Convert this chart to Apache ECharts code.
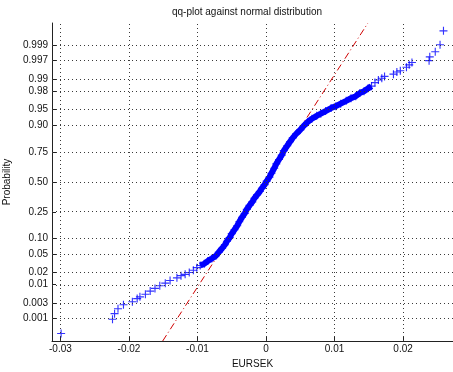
<!DOCTYPE html>
<html>
<head>
<meta charset="utf-8">
<script src="https://cdn.jsdelivr.net/npm/echarts@6/dist/echarts.min.js"></script>
<style>html,body{margin:0;padding:0;background:#fff;}#c{width:453px;height:372px;}</style>
</head>
<body>
<div id="c"></div>
<script>
// ---- data ----
const titleText = 'qq-plot against normal distribution';
const xName = 'EURSEK';
const yName = 'Probability';
const xTicks = [-0.03, -0.02, -0.01, 0, 0.01, 0.02];
const xTickLabels = ['-0.03', '-0.02', '-0.01', '0', '0.01', '0.02'];
const probTicks = [0.001, 0.003, 0.01, 0.02, 0.05, 0.10, 0.25, 0.50, 0.75, 0.90, 0.95, 0.98, 0.99, 0.997, 0.999];
const probTickLabels = ['0.001', '0.003', '0.01', '0.02', '0.05', '0.10', '0.25', '0.50', '0.75', '0.90', '0.95', '0.98', '0.99', '0.997', '0.999'];
// sample quantiles (EURSEK) and their plotting probabilities
const qqX = [-0.0299, -0.0224, -0.0221, -0.0216, -0.0208, -0.0195, -0.0188, -0.0184, -0.0176, -0.0169,
  -0.0162, -0.0155, -0.0147, -0.0140, -0.0130, -0.0124, -0.0118, -0.0112, -0.0106, -0.0101,
  -0.0096, -0.0090, -0.0085, -0.0079, -0.0073, -0.0069, -0.0064, -0.0060, -0.0057, -0.0053,
  -0.0050, -0.0046, -0.0042, -0.0039, -0.0035, -0.0031, -0.0028, -0.0024, -0.0020, -0.0017,
  -0.0013, -0.0009, -0.0006, -0.0002, 0.0001, 0.0005, 0.0008, 0.0012, 0.0015, 0.0019,
  0.0023, 0.0026, 0.0031, 0.0035, 0.0039, 0.0044, 0.0050, 0.0055, 0.0061, 0.0067,
  0.0074, 0.0080, 0.0087, 0.0095, 0.0102, 0.0109, 0.0117, 0.0124, 0.0131, 0.0137,
  0.0143, 0.0149, 0.0154, 0.0159, 0.0164, 0.0169, 0.0173, 0.0186, 0.0191, 0.0196,
  0.0205, 0.0209, 0.0213, 0.0238, 0.0239, 0.0247, 0.0254, 0.0259];
const qqP = [0.0003, 0.00094, 0.00144, 0.00205, 0.00272, 0.00336, 0.00415, 0.00466, 0.00554, 0.00676,
  0.00798, 0.00939, 0.0110, 0.0129, 0.0150, 0.0170, 0.0183, 0.0202, 0.0228, 0.0262,
  0.0294, 0.0322, 0.0367, 0.0418, 0.0475, 0.0559, 0.0668, 0.0778, 0.0901, 0.1038,
  0.121, 0.140, 0.161, 0.184, 0.212, 0.239, 0.268, 0.298, 0.326, 0.356,
  0.386, 0.415, 0.444, 0.476, 0.508, 0.544, 0.579, 0.622, 0.659, 0.695,
  0.729, 0.761, 0.794, 0.819, 0.841, 0.862, 0.881, 0.898, 0.913, 0.924,
  0.933, 0.939, 0.946, 0.953, 0.957, 0.962, 0.967, 0.971, 0.974, 0.978,
  0.980, 0.983, 0.985, 0.9878, 0.9895, 0.9906, 0.9916, 0.9927, 0.9936, 0.9941,
  0.9953, 0.9960, 0.9966, 0.9970, 0.9977, 0.9984, 0.99906, 0.99969];
// fitted normal reference line: x = refMean + refStd * z
const refMean = -0.0001;
const refStd = 0.00416;

// ---- normal scale ----
function normInv(p) {
  const a = [-3.969683028665376e+01, 2.209460984245205e+02, -2.759285104469687e+02, 1.383577518672690e+02, -3.066479806614716e+01, 2.506628277459239e+00];
  const b = [-5.447609879822406e+01, 1.615858368580409e+02, -1.556989798598866e+02, 6.680131188771972e+01, -1.328068155288572e+01];
  const c = [-7.784894002430293e-03, -3.223964580411365e-01, -2.400758277161838e+00, -2.549732539343734e+00, 4.374664141464968e+00, 2.938163982698783e+00];
  const d = [7.784695709041462e-03, 3.224671290700398e-01, 2.445134137142996e+00, 3.754408661907416e+00];
  const pl = 0.02425, ph = 1 - pl;
  let q, r;
  if (p < pl) {
    q = Math.sqrt(-2 * Math.log(p));
    return (((((c[0]*q+c[1])*q+c[2])*q+c[3])*q+c[4])*q+c[5]) / ((((d[0]*q+d[1])*q+d[2])*q+d[3])*q+1);
  }
  if (p <= ph) {
    q = p - 0.5; r = q * q;
    return (((((a[0]*r+a[1])*r+a[2])*r+a[3])*r+a[4])*r+a[5])*q / (((((b[0]*r+b[1])*r+b[2])*r+b[3])*r+b[4])*r+1);
  }
  q = Math.sqrt(-2 * Math.log(1 - p));
  return -(((((c[0]*q+c[1])*q+c[2])*q+c[3])*q+c[4])*q+c[5]) / ((((d[0]*q+d[1])*q+d[2])*q+d[3])*q+1);
}

const yMin = -3.6, yMax = 3.6;
const xMin = -0.03123, xMax = 0.02729;
const zTicks = probTicks.map(normInv);
const points = qqX.map((x, i) => [x, normInv(qqP[i])]);
const bandPoints = points.slice(20, 73);
const refData = [[refMean + refStd * yMin, yMin], [refMean + refStd * yMax, yMax]];

const font = 'Liberation Sans, Arial, Helvetica, sans-serif';
const gridStyle = { color: '#3a3a3a', width: 1, type: [1, 3] };
const cross = 'path://M4.3,0h1.4v4.3h4.3v1.4h-4.3v4.3h-1.4v-4.3h-4.3v-1.4h4.3z';

const chart = echarts.init(document.getElementById('c'), null, { renderer: 'canvas' });
chart.setOption({
  animation: false,
  backgroundColor: '#ffffff',
  title: {
    text: titleText, left: 247, top: 7, padding: 0, textAlign: 'center',
    textStyle: { fontFamily: font, fontSize: 10, fontWeight: 'normal', color: '#111' }
  },
  grid: { left: 52, right: 0, top: 23, bottom: 31, containLabel: false, outerBoundsMode: 'none' },
  xAxis: {
    type: 'value', min: xMin, max: xMax,
    name: xName, nameLocation: 'middle', nameGap: 16,
    nameTextStyle: { fontFamily: font, fontSize: 10, color: '#111' },
    axisLine: { show: true, onZero: false, lineStyle: { color: '#222', width: 1 } },
    axisTick: { show: true, inside: true, length: 4, customValues: xTicks, lineStyle: { color: '#222' } },
    axisLabel: {
      customValues: xTicks, margin: 3, fontFamily: font, fontSize: 10, color: '#111',
      formatter: v => { const i = xTicks.findIndex(t => Math.abs(t - v) < 1e-9); return i >= 0 ? xTickLabels[i] : ''; }
    },
    splitLine: { show: false }
  },
  yAxis: {
    type: 'value', min: yMin, max: yMax,
    name: yName, nameLocation: 'middle', nameGap: 35,
    nameTextStyle: { fontFamily: font, fontSize: 10, color: '#111' },
    axisLine: { show: true, onZero: false, lineStyle: { color: '#222', width: 1 } },
    axisTick: { show: true, inside: true, length: 4, customValues: zTicks, lineStyle: { color: '#222' } },
    axisLabel: {
      customValues: zTicks, margin: 4, fontFamily: font, fontSize: 10, color: '#111',
      formatter: v => { const i = zTicks.findIndex(t => Math.abs(t - v) < 1e-6); return i >= 0 ? probTickLabels[i] : ''; }
    },
    splitLine: { show: false }
  },
  series: [
    {
      type: 'line', data: [], silent: true, symbol: 'none',
      markLine: {
        silent: true, symbol: 'none', animation: false,
        label: { show: false }, lineStyle: gridStyle,
        data: xTicks.map(v => ({ xAxis: v })).concat(zTicks.map(v => ({ yAxis: v })))
      }
    },
    {
      type: 'line', data: refData, symbol: 'none', silent: true,
      lineStyle: { color: '#d00000', width: 1, type: [7, 3, 1, 3] }, z: 2
    },
    {
      type: 'line', data: bandPoints, symbol: 'none', silent: true, smooth: false,
      lineStyle: { color: '#0000ff', width: 6 }, z: 3
    },
    {
      type: 'scatter', data: points, symbol: cross, symbolSize: 8, silent: true,
      itemStyle: { color: '#0000ff' }, z: 4
    }
  ]
});
</script>
</body>
</html>
